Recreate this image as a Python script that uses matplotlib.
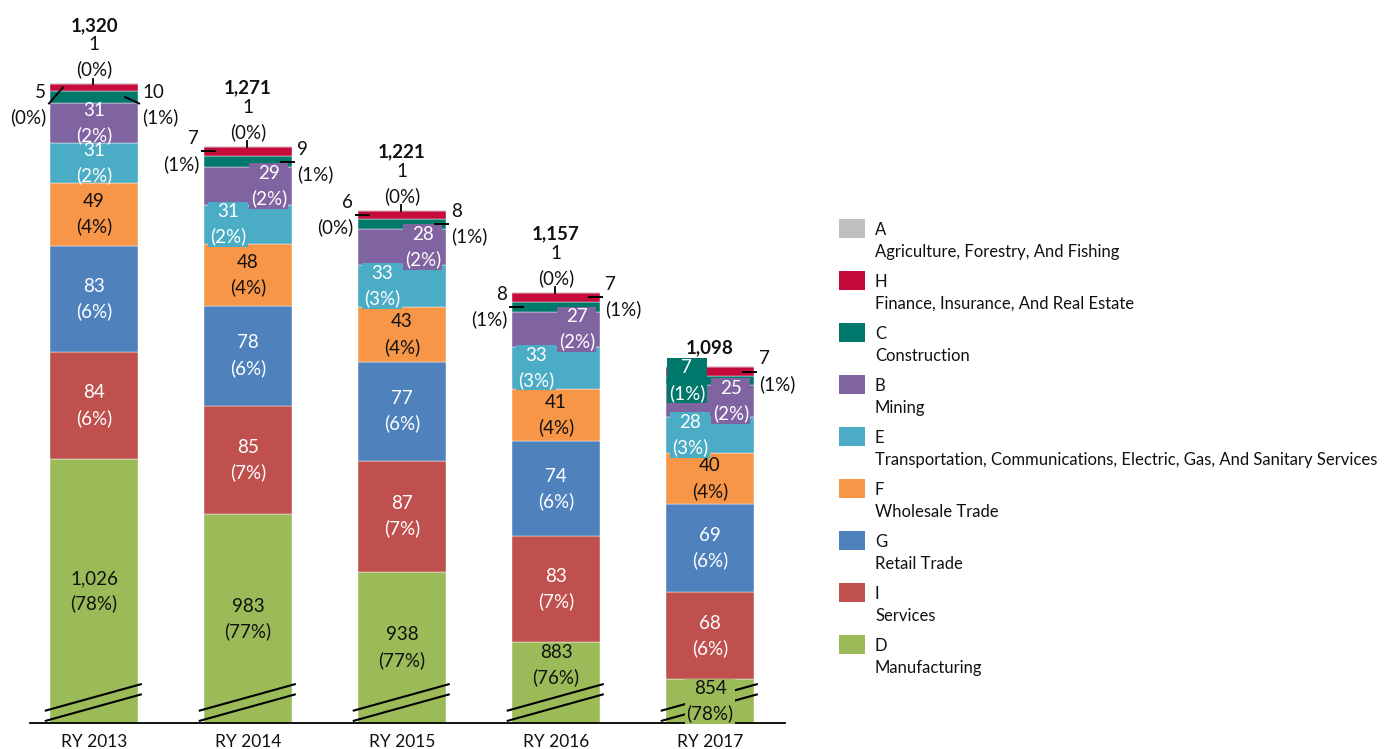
import matplotlib
matplotlib.use('Agg')
import matplotlib.pyplot as plt
from matplotlib.patches import Rectangle
import numpy as np

plt.rcParams['font.family'] = ['Lato', 'DejaVu Sans']

# ---------------- data ----------------
years = ['RY 2013', 'RY 2014', 'RY 2015', 'RY 2016', 'RY 2017']
totals = [1320, 1271, 1221, 1157, 1098]

manufacturing = [1026, 983, 938, 883, 854]     # D
services = [84, 85, 87, 83, 68]                 # I
retail = [83, 78, 77, 74, 69]                   # G
wholesale = [49, 48, 43, 41, 40]                # F
transportation = [31, 31, 33, 33, 28]           # E
mining = [31, 29, 28, 27, 25]                   # B
construction = [10, 9, 8, 8, 7]                 # C
finance = [5, 7, 6, 7, 7]                       # H
agriculture = [1, 1, 1, 1, 1]                   # A

# stacking order bottom -> top
codes = ['D', 'I', 'G', 'F', 'E', 'B', 'C', 'H', 'A']
names = ['Manufacturing', 'Services', 'Retail Trade', 'Wholesale Trade',
         'Transportation, Communications, Electric, Gas, And Sanitary Services',
         'Mining', 'Construction', 'Finance, Insurance, And Real Estate',
         'Agriculture, Forestry, And Fishing']
series = [manufacturing, services, retail, wholesale, transportation,
          mining, construction, finance, agriculture]
colors = ['#9BBB59', '#C0504D', '#4F81BD', '#F79646', '#4BACC6',
          '#8064A2', '#00786C', '#C40B3B', '#BFBFBF']
legend_order = ['A', 'H', 'C', 'B', 'E', 'F', 'G', 'I', 'D']

BREAK = 820  # axis break applied to manufacturing

# ---------------- figure ----------------
W, H = 1384, 749
fig = plt.figure(figsize=(W / 100, H / 100), dpi=100)
PX = 1.28  # pixels per unit
ax_bottom_px = 723
ax = fig.add_axes([30 / W, (H - ax_bottom_px) / H, 755 / W, ax_bottom_px / H])
ax.set_ylim(0, ax_bottom_px / PX)
ax.set_xlim(-0.416, 4.487)
for s in ['top', 'right', 'left']:
    ax.spines[s].set_visible(False)
ax.spines['bottom'].set_color('black')
ax.spines['bottom'].set_linewidth(1.3)
ax.set_yticks([])
x = np.arange(len(years))
ax.set_xticks(x)
ax.set_xticklabels(years, fontsize=12.5, color='#111111')
ax.tick_params(axis='x', length=0, pad=8)

FS = 13.5
LS = 1.5
DARK = '#111111'
BW = 0.575

seg_b = {}
seg_t = {}
vals = {}
cols = {}
bottom = np.zeros(len(years))
for code, ser, col in zip(codes, series, colors):
    v = np.array(ser, dtype=float)
    disp = v - BREAK if code == 'D' else v
    ax.bar(x, disp, BW, bottom=bottom, color=col, edgecolor='white',
           linewidth=0.3, zorder=2)
    seg_b[code] = bottom.copy()
    bottom = bottom + disp
    seg_t[code] = bottom.copy()
    vals[code] = ser
    cols[code] = col

def pct(v, t):
    return int(np.floor(v / t * 100 + 0.5))

def lab(code, i):
    v = vals[code][i]
    return f"{v:,}\n({pct(v, totals[i])}%)"

# break marks
for i in x:
    xs = np.array([i - 0.32, i + 0.31])
    ax.plot(xs, [1.5, 22.5], color='black', lw=1.5, zorder=3, solid_capstyle='butt')
    ax.plot(xs, [9.5, 30.5], color='black', lw=1.5, zorder=3, solid_capstyle='butt')

# inside labels
white_txt = {'I', 'G', 'E', 'B', 'C'}
for code in ['D', 'I', 'G', 'F', 'E', 'B']:
    for i in x:
        b, t = seg_b[code][i], seg_t[code][i]
        yc = (b + t) / 2
        dx = 0.0
        box = None
        if code == 'D':
            if t - b >= 50:
                yc = max(yc, 45)
            else:
                box = dict(boxstyle='square,pad=0.08', fc=cols[code], ec='none')
        if code == 'E' and i > 0:
            dx = -0.13
            box = dict(boxstyle='square,pad=0.08', fc=cols[code], ec='none')
        if code == 'B' and i > 0:
            dx = 0.135
            box = dict(boxstyle='square,pad=0.08', fc=cols[code], ec='none')
        ax.text(i + dx, yc, lab(code, i), ha='center', va='center', fontsize=FS,
                linespacing=LS, color='white' if code in white_txt else DARK,
                bbox=box, zorder=4 if box is None else 4.5)

# small segments: C and H
side_C = ['right', 'right', 'right', 'left', 'inside']
side_H = ['left', 'left', 'left', 'right', 'right']
for code, sides in [('C', side_C), ('H', side_H)]:
    for i in x:
        b, t = seg_b[code][i], seg_t[code][i]
        yc = (b + t) / 2
        side = sides[i]
        if side == 'inside':
            ax.text(i - 0.15, yc, lab(code, i), ha='center', va='center', fontsize=FS,
                    linespacing=LS, color='white', zorder=5,
                    bbox=dict(boxstyle='square,pad=0.08', fc=cols[code], ec='none'))
            continue
        sgn = -1 if side == 'left' else 1
        edge = i + sgn * BW / 2
        if i == 0:
            ly = seg_b['C'][i] - 1
            ax.plot([edge - sgn * 0.085, edge + sgn * 0.005], [yc, ly + 1],
                    color='black', lw=1.4, zorder=6)
            tx = edge + sgn * 0.025
        else:
            ly = yc
            ax.plot([edge - sgn * 0.075, edge + sgn * 0.012], [yc, yc],
                    color='black', lw=1.4, zorder=6)
            tx = edge + sgn * 0.03
        ax.text(tx, ly, lab(code, i), ha='right' if side == 'left' else 'left',
                va='center', fontsize=FS, linespacing=LS, color=DARK, zorder=6)

# A labels and totals
show_A = [True, True, True, True, False]
for i in x:
    top = seg_t['A'][i]
    if show_A[i]:
        ax.plot([i - 0.005, i - 0.005], [top - 1, top + 3.5], color='black', lw=1.3, zorder=6)
        ax.text(i, top + 20, lab('A', i), ha='center', va='center', fontsize=FS,
                linespacing=LS, color=DARK, zorder=6)
        ty = top + 45
    else:
        ty = top + 14
    ax.text(i, ty, f"{totals[i]:,}", ha='center', va='center', fontsize=FS,
            fontweight='bold', color=DARK, zorder=6)

# legend (drawn manually to match layout)
def fx(px):
    return px / W

def fy(py):
    return 1 - py / H

for k, code in enumerate(legend_order):
    j = codes.index(code)
    y0 = 219 + 52 * k
    fig.add_artist(Rectangle((fx(839), fy(y0 + 19)), 26 / W, 19 / H,
                             transform=fig.transFigure, fc=colors[j], ec='none'))
    fig.text(fx(875), fy(y0 + 11), code, ha='left', va='center', fontsize=12, color=DARK)
    fig.text(fx(875), fy(y0 + 33), names[j], ha='left', va='center', fontsize=12, color=DARK)

fig.savefig('out.png', dpi=100)
